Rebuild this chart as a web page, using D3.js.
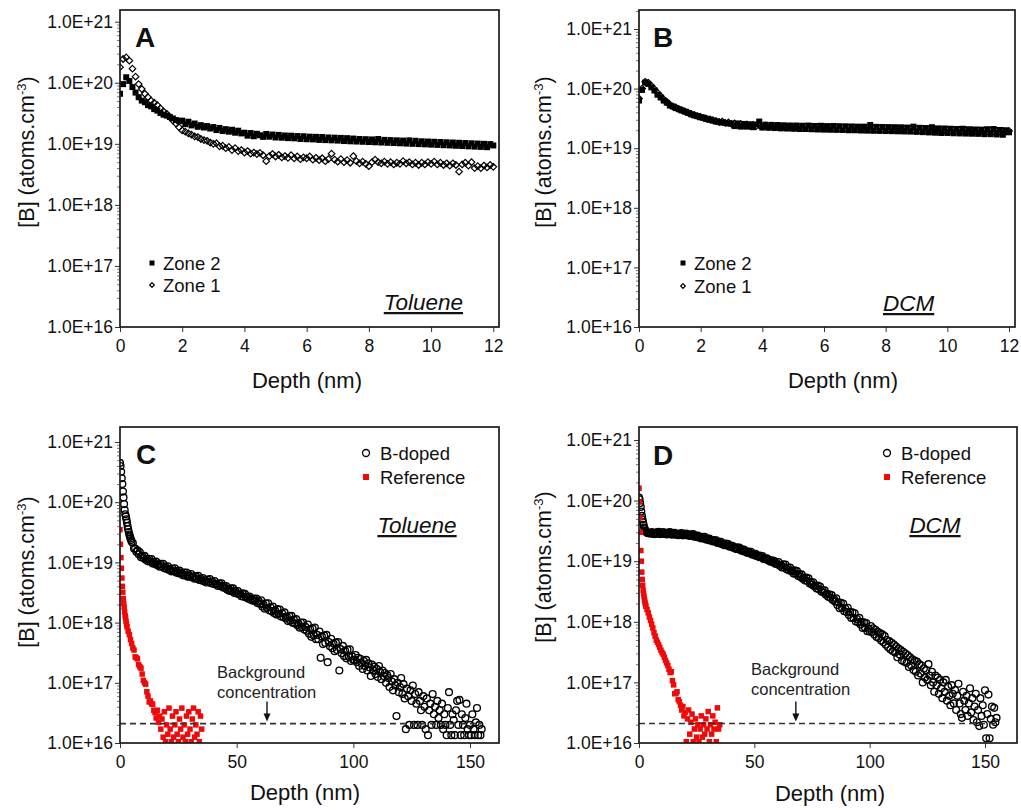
<!DOCTYPE html>
<html>
<head>
<meta charset="UTF-8">
<title>Boron depth profiles</title>
<script src="https://d3js.org/d3.v7.min.js"></script>
<style>
  body { margin: 0; background: #fff; }
  svg { font-family: "Liberation Sans", Arial, sans-serif; }
</style>
</head>
<body>
<svg id="chart" width="1021" height="810"></svg>
<script>
// ---- data (depth in nm, [B] in atoms/cm3) ----

// panels A and B : depth grid 0..12 nm
const depthAB = [0,0.1,0.2,0.3,0.4,0.5,0.6,0.7,0.8,0.9,
  1,1.1,1.2,1.3,1.4,1.5,1.6,1.7,1.8,1.9,2,2.1,2.2,2.3,2.4,2.5,2.6,2.7,2.8,2.9,
  3,3.1,3.2,3.3,3.4,3.5,3.6,3.7,3.8,3.9,4,4.1,4.2,4.3,4.4,4.5,4.6,4.7,4.8,4.9,
  5,5.1,5.2,5.3,5.4,5.5,5.6,5.7,5.8,5.9,6,6.1,6.2,6.3,6.4,6.5,6.6,6.7,6.8,6.9,
  7,7.1,7.2,7.3,7.4,7.5,7.6,7.7,7.8,7.9,8,8.1,8.2,8.3,8.4,8.5,8.6,8.7,8.8,8.9,
  9,9.1,9.2,9.3,9.4,9.5,9.6,9.7,9.8,9.9,10,10.1,10.2,10.3,10.4,10.5,10.6,10.7,10.8,10.9,
  11,11.1,11.2,11.3,11.4,11.5,11.6,11.7,11.8,11.9,12];

const zone2A = [6.6e19,9.5e19,1.23e20,1.07e20,8.5e19,6.9e19,5.8e19,5.1e19,4.8e19,4.3e19,
  4.1e19,3.7e19,3.5e19,3.2e19,3.0e19,2.9e19,2.75e19,2.6e19,2.45e19,2.35e19,
  2.4e19,2.1e19,2.3e19,2.0e19,2.15e19,1.9e19,2.02e19,1.85e19,1.95e19,1.78e19,
  1.88e19,1.68e19,1.82e19,1.62e19,1.74e19,1.58e19,1.7e19,1.52e19,1.64e19,1.48e19,
  1.52e19,1.36e19,1.5e19,1.33e19,1.46e19,1.38e19,1.3e19,1.45e19,1.31e19,1.42e19,
  1.27e19,1.4e19,1.26e19,1.37e19,1.24e19,1.36e19,1.23e19,1.34e19,1.2e19,1.33e19,
  1.19e19,1.31e19,1.18e19,1.3e19,1.16e19,1.29e19,1.15e19,1.27e19,1.14e19,1.26e19,
  1.13e19,1.25e19,1.11e19,1.24e19,1.1e19,1.22e19,1.09e19,1.2e19,1.08e19,1.19e19,
  1.07e19,1.18e19,1.06e19,1.2e19,1.05e19,1.16e19,1.04e19,1.15e19,1.03e19,1.14e19,
  1.02e19,1.13e19,1.01e19,1.14e19,1.0e19,1.12e19,9.9e18,1.1e19,9.8e18,1.09e19,
  9.7e18,1.08e19,9.6e18,1.07e19,9.5e18,1.06e19,9.4e18,1.05e19,9.3e18,1.04e19,
  9.2e18,1.03e19,9.1e18,1.02e19,9.0e18,1.01e19,8.9e18,1.0e19,8.8e18,9.9e18,9.4e18];

const zone1A = [1.8e20,2.45e20,2.6e20,2.3e20,1.7e20,1.26e20,9.5e19,7.9e19,6.6e19,5.8e19,
  5.1e19,4.7e19,4.3e19,3.8e19,3.4e19,3.1e19,2.75e19,2.4e19,2.15e19,1.86e19,
  1.66e19,1.58e19,1.48e19,1.41e19,1.32e19,1.29e19,1.2e19,1.15e19,1.12e19,1.05e19,
  1.0e19,1.02e19,9.1e18,9.3e18,8.5e18,8.9e18,7.9e18,8.5e18,7.6e18,7.9e18,
  7.2e18,7.6e18,6.9e18,7.2e18,6.8e18,7.1e18,6.5e18,5.2e18,6.3e18,6.8e18,
  6.2e18,6.6e18,6.0e18,6.3e18,5.9e18,6.5e18,5.8e18,6.2e18,5.6e18,6.0e18,
  5.8e18,6.2e18,5.5e18,5.9e18,5.4e18,5.8e18,5.2e18,5.6e18,6.9e18,5.5e18,
  5.1e18,5.6e18,5.0e18,5.4e18,4.9e18,6.3e18,5.2e18,4.8e18,5.1e18,4.7e18,
  4.3e18,5.0e18,5.5e18,5.0e18,4.8e18,5.1e18,4.7e18,5.0e18,4.6e18,4.9e18,
  4.7e18,5.2e18,4.8e18,5.0e18,4.6e18,4.9e18,4.5e18,4.9e18,4.6e18,5.0e18,
  4.7e18,5.1e18,4.6e18,4.9e18,4.5e18,4.8e18,4.4e18,4.8e18,4.5e18,3.5e18,
  4.6e18,4.9e18,4.4e18,5.0e18,4.0e18,4.3e18,4.0e18,4.4e18,4.1e18,4.5e18,4.2e18];

const zone2B = [6.3e19,9.5e19,1.26e20,1.2e20,1.05e20,9.3e19,7.9e19,7.1e19,6.3e19,5.8e19,
  5.2e19,5.0e19,4.7e19,4.5e19,4.3e19,4.1e19,3.9e19,3.7e19,3.55e19,3.45e19,
  3.3e19,3.25e19,3.1e19,3.0e19,2.9e19,2.8e19,2.75e19,2.7e19,2.65e19,2.6e19,
  2.6e19,2.35e19,2.6e19,2.3e19,2.55e19,2.3e19,2.52e19,2.25e19,2.5e19,2.8e19,
  2.22e19,2.48e19,2.2e19,2.46e19,2.18e19,2.45e19,2.15e19,2.42e19,2.14e19,2.4e19,
  2.12e19,2.4e19,2.1e19,2.38e19,2.1e19,2.4e19,2.08e19,2.36e19,2.06e19,2.38e19,
  2.05e19,2.35e19,2.04e19,2.36e19,2.03e19,2.34e19,2.02e19,2.33e19,2.0e19,2.32e19,
  2.0e19,2.3e19,1.98e19,2.3e19,1.97e19,2.45e19,1.96e19,2.28e19,1.95e19,2.27e19,
  1.94e19,2.26e19,1.93e19,2.25e19,1.92e19,2.24e19,1.91e19,2.22e19,1.9e19,2.3e19,
  1.88e19,2.2e19,1.86e19,2.18e19,1.84e19,2.25e19,1.82e19,2.15e19,1.8e19,2.14e19,
  1.8e19,2.12e19,1.78e19,2.1e19,1.77e19,2.12e19,1.76e19,2.08e19,1.75e19,2.06e19,
  1.74e19,2.05e19,1.72e19,2.08e19,1.72e19,2.1e19,1.7e19,2.02e19,1.68e19,2.0e19,1.85e19];

const zone1B = [6.8e19,1.0e20,1.3e20,1.25e20,1.12e20,9.8e19,8.5e19,7.5e19,6.6e19,6.0e19,
  5.4e19,5.0e19,4.8e19,4.5e19,4.3e19,4.1e19,3.9e19,3.75e19,3.6e19,3.45e19,
  3.35e19,3.2e19,3.1e19,3.05e19,2.95e19,2.85e19,2.75e19,2.8e19,2.65e19,2.7e19,
  2.55e19,2.6e19,2.48e19,2.55e19,2.45e19,2.5e19,2.4e19,2.45e19,2.35e19,2.42e19,
  2.32e19,2.4e19,2.3e19,2.36e19,2.28e19,2.34e19,2.26e19,2.32e19,2.24e19,2.3e19,
  2.22e19,2.28e19,2.24e19,2.2e19,2.27e19,2.21e19,2.26e19,2.2e19,2.25e19,2.19e19,
  2.24e19,2.18e19,2.23e19,2.17e19,2.22e19,2.16e19,2.21e19,2.15e19,2.2e19,2.14e19,
  2.19e19,2.13e19,2.18e19,2.12e19,2.17e19,2.11e19,2.16e19,2.1e19,2.15e19,2.09e19,
  2.14e19,2.08e19,2.13e19,2.07e19,2.12e19,2.06e19,2.11e19,2.05e19,2.1e19,2.04e19,
  2.09e19,2.03e19,2.08e19,2.02e19,2.07e19,2.01e19,2.06e19,2.0e19,2.05e19,1.99e19,
  2.04e19,1.98e19,2.03e19,1.97e19,2.02e19,1.96e19,2.01e19,1.95e19,2.0e19,1.94e19,
  1.99e19,1.93e19,1.98e19,1.92e19,1.97e19,1.91e19,1.96e19,1.9e19,1.95e19,1.89e19,1.94e19];

// panels C and D : B-doped depth grid (0.25 nm to 5 nm, then 0.5 nm)
const depthCD = [0,0.25,0.5,0.75,1,1.25,1.5,1.75,2,2.25,2.5,2.75,3,3.25,3.5,3.75,4,4.25,4.5,4.75,5,
  5.5,6,6.5,7,7.5,8,8.5,9,9.5,10,10.5,11,11.5,12,12.5,13,13.5,14,14.5,15,15.5,16,16.5,17,17.5,18,18.5,19,19.5,20,
  20.5,21,21.5,22,22.5,23,23.5,24,24.5,25,25.5,26,26.5,27,27.5,28,28.5,29,29.5,30,
  30.5,31,31.5,32,32.5,33,33.5,34,34.5,35,35.5,36,36.5,37,37.5,38,38.5,39,39.5,40,
  40.5,41,41.5,42,42.5,43,43.5,44,44.5,45,45.5,46,46.5,47,47.5,48,48.5,49,49.5,50,
  50.5,51,51.5,52,52.5,53,53.5,54,54.5,55,55.5,56,56.5,57,57.5,58,58.5,59,59.5,60,
  60.5,61,61.5,62,62.5,63,63.5,64,64.5,65,65.5,66,66.5,67,67.5,68,68.5,69,69.5,70,
  70.5,71,71.5,72,72.5,73,73.5,74,74.5,75,75.5,76,76.5,77,77.5,78,78.5,79,79.5,80,
  80.5,81,81.5,82,82.5,83,83.5,84,84.5,85,85.5,86,86.5,87,87.5,88,88.5,89,89.5,90,
  90.5,91,91.5,92,92.5,93,93.5,94,94.5,95,95.5,96,96.5,97,97.5,98,98.5,99,99.5,100,
  100.5,101,101.5,102,102.5,103,103.5,104,104.5,105,105.5,106,106.5,107,107.5,108,108.5,109,109.5,110,
  110.5,111,111.5,112,112.5,113,113.5,114,114.5,115,115.5,116,116.5,117,117.5,118,118.5,119,119.5,120,
  120.5,121,121.5,122,122.5,123,123.5,124,124.5,125,125.5,126,126.5,127,127.5,128,128.5,129,129.5,130,
  130.5,131,131.5,132,132.5,133,133.5,134,134.5,135,135.5,136,136.5,137,137.5,138,138.5,139,139.5,140,
  140.5,141,141.5,142,142.5,143,143.5,144,144.5,145,145.5,146,146.5,147,147.5,148,148.5,149,149.5,150,
  150.5,151,151.5,152,152.5,153,153.5,154,154.5,155];

const bdopedC = [4.5e20,4.0e20,3.2e20,2.5e20,2.0e20,1.5e20,1.2e20,9.3e19,7.4e19,6.3e19,
  5.8e19,5.2e19,4.6e19,4.0e19,3.55e19,3.2e19,2.9e19,2.7e19,2.5e19,2.35e19,2.2e19,
  2.1e19,1.7e19,1.7e19,1.5e19,1.58e19,1.36e19,1.47e19,1.22e19,1.29e19,1.18e19,
  1.28e19,1.11e19,1.15e19,1.04e19,1.15e19,1.04e19,1.14e19,9.6e18,1.02e19,9.4e18,
  1.03e19,9.0e18,9.3e18,8.5e18,9.45e18,8.6e18,9.5e18,8.0e18,8.5e18,7.8e18,
  8.6e18,7.5e18,7.75e18,7.1e18,7.9e18,7.2e18,8.0e18,6.8e18,7.2e18,6.6e18,
  7.3e18,6.5e18,6.7e18,6.1e18,6.8e18,6.1e18,6.8e18,5.8e18,6.2e18,5.8e18,
  6.4e18,5.6e18,5.8e18,5.35e18,5.9e18,5.4e18,6.0e18,5.1e18,5.4e18,5.0e18,
  5.5e18,4.85e18,5.05e18,4.65e18,5.2e18,4.75e18,5.3e18,4.5e18,4.8e18,4.4e18,
  4.9e18,4.3e18,4.4e18,4.05e18,4.5e18,4.1e18,4.5e18,3.85e18,4.1e18,3.75e18,
  4.05e18,3.5e18,3.65e18,3.35e18,3.7e18,3.35e18,3.7e18,3.1e18,3.3e18,3.05e18,
  3.35e18,2.95e18,3.0e18,2.75e18,3.05e18,2.7e18,3.0e18,2.6e18,2.7e18,2.5e18,
  2.7e18,2.4e18,2.48e18,2.3e18,2.5e18,2.3e18,2.5e18,2.1e18,2.25e18,2.05e18,
  2.35e18,1.85e18,2.0e18,1.7e18,2.1e18,1.75e18,2.1e18,1.6e18,1.8e18,1.55e18,
  1.85e18,1.45e18,1.58e18,1.36e18,1.67e18,1.4e18,1.65e18,1.26e18,1.43e18,1.24e18,
  1.48e18,1.17e18,1.25e18,1.06e18,1.3e18,1.08e18,1.29e18,9.9e17,1.12e18,9.7e17,
  1.14e18,9.0e17,9.6e17,8.2e17,1.0e18,8.4e17,1.0e18,7.65e17,8.5e17,7.3e17,
  9.3e17,6.5e17,7.8e17,5.8e17,8.0e17,6.1e17,8.3e17,5.3e17,6.25e17,5.3e17,
  7.1e17,2.6e17,5.9e17,4.4e17,6.1e17,4.6e17,6.25e17,2.2e17,4.75e17,4.05e17,
  5.4e17,3.75e17,4.5e17,3.35e17,4.65e17,3.5e17,4.75e17,1.6e17,3.62e17,3.1e17,
  4.1e17,2.8e17,3.4e17,2.55e17,3.55e17,2.7e17,3.6e17,2.3e17,2.75e17,2.4e17,
  2.4e17,2.9e17,2.2e17,2.6e17,1.9e17,2.5e17,2.1e17,1.7e17,2.3e17,1.9e17,
  2.4e17,1.6e17,2.1e17,1.8e17,1.3e17,2.0e17,1.6e17,1.85e17,1.4e17,1.7e17,
  1.25e17,1.9e17,1.5e17,1.15e17,1.6e17,1.3e17,1.45e17,1.0e17,1.35e17,1.2e17,
  8.5e16,1.4e17,1.05e17,7.5e16,1.15e17,9.0e16,2.8e16,1.0e17,7.0e16,8.5e16,
  1.2e17,6.5e16,9.5e16,5.5e16,1.7e16,8.0e16,6.0e16,2.0e16,7.5e16,5.0e16,
  9.0e16,2.0e16,6.5e16,4.5e16,2.0e16,7.0e16,5.0e16,3.5e16,2.0e16,6.0e16,
  4.0e16,1.7e16,5.5e16,1.35e16,3.5e16,4.5e16,2.0e16,6.5e16,3.0e16,4.0e16,
  2.0e16,5.0e16,2.6e16,3.5e16,2.0e16,4.5e16,1.7e16,3.0e16,2.0e16,1.35e16,
  3.8e16,7.0e16,2.0e16,1.35e16,3.0e16,2.4e16,1.35e16,3.5e16,5.0e16,2.0e16,
  5.2e16,1.35e16,3.0e16,2.0e16,1.35e16,2.6e16,4.5e16,1.7e16,1.35e16,2.0e16,
  1.35e16,3.0e16,1.7e16,1.35e16,2.2e16,3.8e16,1.35e16,2.0e16,1.35e16,1.7e16];

const bdopedD = [1.12e20,1.05e20,9.1e19,7.9e19,6.6e19,5.6e19,4.9e19,4.4e19,4.0e19,3.6e19,
  3.4e19,3.2e19,3.1e19,3.0e19,2.95e19,2.95e19,2.9e19,2.9e19,2.92e19,2.88e19,2.9e19,
  3.02e19,2.81e19,2.91e19,2.8e19,3.0e19,2.84e19,3.05e19,2.8e19,2.94e19,2.81e19,
  3.02e19,2.81e19,2.89e19,2.76e19,2.97e19,2.82e19,3.01e19,2.75e19,2.88e19,2.76e19,
  2.94e19,2.74e19,2.81e19,2.69e19,2.87e19,2.72e19,2.92e19,2.67e19,2.81e19,2.7e19,
  2.87e19,2.67e19,2.73e19,2.61e19,2.78e19,2.63e19,2.79e19,2.53e19,2.64e19,2.5e19,
  2.66e19,2.46e19,2.51e19,2.38e19,2.53e19,2.39e19,2.53e19,2.28e19,2.36e19,2.23e19,
  2.37e19,2.19e19,2.23e19,2.11e19,2.24e19,2.11e19,2.22e19,2.0e19,2.07e19,1.97e19,
  2.08e19,1.91e19,1.94e19,1.84e19,1.96e19,1.83e19,1.94e19,1.75e19,1.81e19,1.71e19,
  1.8e19,1.66e19,1.68e19,1.59e19,1.69e19,1.59e19,1.68e19,1.51e19,1.57e19,1.47e19,
  1.56e19,1.43e19,1.45e19,1.37e19,1.44e19,1.35e19,1.43e19,1.29e19,1.32e19,1.25e19,
  1.32e19,1.22e19,1.24e19,1.17e19,1.24e19,1.16e19,1.22e19,1.09e19,1.13e19,1.07e19,
  1.12e19,1.03e19,1.04e19,9.8e18,1.03e19,9.6e18,1.01e19,9.1e18,9.4e18,8.9e18,
  9.7e18,8.4e18,8.75e18,7.9e18,8.9e18,7.9e18,8.8e18,7.35e18,7.85e18,7.1e18,
  7.85e18,6.8e18,7.0e18,6.25e18,7.05e18,6.25e18,6.85e18,5.7e18,6.05e18,5.5e18,
  6.05e18,5.15e18,5.35e18,4.8e18,5.35e18,4.7e18,5.2e18,4.3e18,4.55e18,4.1e18,
  4.5e18,3.85e18,3.97e18,3.55e18,3.95e18,3.45e18,3.8e18,3.15e18,3.35e18,3.05e18,
  3.3e18,2.8e18,2.9e18,2.6e18,2.85e18,2.5e18,2.75e18,2.3e18,2.4e18,2.15e18,
  2.45e18,1.9e18,2.1e18,1.68e18,2.05e18,1.7e18,2.0e18,1.5e18,1.64e18,1.45e18,
  1.7e18,1.3e18,1.45e18,1.16e18,1.43e18,1.16e18,1.38e18,1.01e18,1.11e18,9.8e17,
  1.16e18,9.0e17,9.9e17,7.9e17,9.8e17,8.0e17,9.5e17,7.0e17,7.7e17,6.9e17,
  8.5e17,6.8e17,7.8e17,6.2e17,7.4e17,5.6e17,6.8e17,5.4e17,6.5e17,4.9e17,
  6.2e17,4.6e17,5.8e17,4.2e17,5.0e17,3.8e17,4.8e17,3.5e17,4.5e17,3.3e17,
  4.2e17,3.1e17,3.9e17,2.6e17,3.6e17,2.9e17,3.4e17,2.3e17,3.2e17,2.2e17,
  3.0e17,2.1e17,2.8e17,1.8e17,2.6e17,1.9e17,2.4e17,1.6e17,2.3e17,1.5e17,
  2.2e17,1.3e17,2.0e17,1.4e17,1.9e17,1.0e17,1.7e17,1.2e17,1.6e17,1.1e17,
  2.0e17,1.3e17,9.0e16,1.5e17,1.0e17,7.0e16,1.3e17,9.0e16,1.2e17,6.5e16,
  1.1e17,8.0e16,5.5e16,1.0e17,7.0e16,1.1e17,5.0e16,8.5e16,6.0e16,4.2e16,
  9.0e16,6.5e16,4.5e16,7.5e16,3.5e16,6.0e16,9.5e16,4.5e16,3.0e16,2.6e16,
  7.0e16,5.0e16,3.5e16,6.0e16,2.8e16,4.5e16,8.0e16,3.2e16,5.5e16,2.4e16,
  4.0e16,6.5e16,2.2e16,3.5e16,1.9e16,5.5e16,2.8e16,4.2e16,2.0e16,7.4e16,
  1.2e16,3.0e16,6.3e16,1.2e16,2.5e16,4.0e16,2.0e16,3.8e16,2.2e16,2.6e16];

// reference (undoped) profiles : depth grid
const depthRef = [0,0.2,0.4,0.6,0.8,1,1.2,1.4,1.6,1.8,2,2.2,2.4,2.6,2.8,3,
  3.5,4,4.5,5,5.5,6,6.5,7,7.5,8,8.5,9,9.5,10,10.5,11,11.5,12,12.5,13,13.5,14,14.5,15,15.5,16,16.5,17,
  17.5,18,18.5,19,19.5,20,20.5,21,21.5,22,22.5,23,23.5,24,24.5,25,25.5,26,26.5,27,
  27.5,28,28.5,29,29.5,30,30.5,31,31.5,32,32.5,33,33.5,34,34.5,35];

const refC = [3.5e19,2.0e19,1.2e19,8.0e18,5.5e18,4.0e18,3.2e18,2.5e18,2.1e18,1.8e18,
  1.5e18,1.3e18,1.2e18,1.05e18,9.5e17,8.5e17,
  7.2e17,6.3e17,5.2e17,4.5e17,3.8e17,3.5e17,2.7e17,2.6e17,2.5e17,2.0e17,
  1.85e17,1.75e17,1.4e17,1.1e17,1.0e17,9.5e16,7.1e16,6.0e16,4.8e16,5.0e16,
  4.5e16,4.4e16,3.5e16,3.2e16,2.6e16,3.5e16,2.2e16,2.8e16,
  1.7e16,2.5e16,1.25e16,3.3e16,1.05e16,2.0e16,1.4e16,3.8e16,1.7e16,1.05e16,
  2.8e16,1.25e16,2.0e16,3.3e16,1.4e16,1.05e16,2.5e16,1.7e16,3.8e16,1.25e16,
  2.0e16,1.05e16,2.8e16,1.4e16,3.3e16,1.7e16,1.05e16,2.5e16,3.8e16,1.25e16,
  2.0e16,1.4e16,3.3e16,1.05e16,2.8e16,1.7e16];

const refD = [1.6e20,9.5e19,5.2e19,3.0e19,1.5e19,1.0e19,6.6e18,5.0e18,4.0e18,3.3e18,
  2.9e18,2.6e18,2.3e18,2.1e18,1.95e18,1.8e18,
  1.6e18,1.4e18,1.2e18,1.05e18,9.1e17,7.9e17,6.6e17,5.8e17,5.0e17,4.6e17,
  4.2e17,3.8e17,3.4e17,3.1e17,2.9e17,2.6e17,2.3e17,2.1e17,1.9e17,1.65e17,
  1.45e17,1.5e17,1.07e17,9.1e16,6.5e16,6.6e16,7.0e16,5.2e16,
  4.8e16,4.2e16,3.5e16,4.0e16,2.8e16,3.2e16,1.05e16,2.5e16,3.5e16,1.4e16,
  2.2e16,3.0e16,1.05e16,1.7e16,2.5e16,1.25e16,2.0e16,1.05e16,1.7e16,2.8e16,
  1.25e16,2.0e16,1.4e16,2.5e16,1.7e16,3.3e16,1.05e16,2.0e16,1.4e16,2.8e16,
  1.7e16,2.2e16,1.05e16,3.8e16,1.7e16,2.0e16];

// axes
const yTicks = [1e16, 1e17, 1e18, 1e19, 1e20, 1e21];
const yTickLabels = ["1.0E+16", "1.0E+17", "1.0E+18", "1.0E+19", "1.0E+20", "1.0E+21"];
const xTicksAB = [0, 2, 4, 6, 8, 10, 12];
const xTicksCD = [0, 50, 100, 150];

// background concentration (C, D)
const background = 2.1e16;
const bgEndC = 155, bgArrowC = 63;
const bgEndD = 156, bgArrowD = 68;

// ---- layout ----
const svg = d3.select("#chart");
svg.append("rect").attr("width", 1021).attr("height", 810).attr("fill", "#fff");

const diamond = "M0,-3.3L3.3,0L0,3.3L-3.3,0Z";
const red = "#ee0a0a";

const panels = [
  { id: "A", solvent: "Toluene", xd: [0, 12], xr: [120, 493.3], xt: xTicksAB, y16: 327, y21: 21.7,
    box: [120, 10, 499, 327], letter: [135, 47], solv: [463, 310, "end"], ylab: [26, 152], xlab: [307, 388],
    series: [
      { x: depthAB, y: zone2A, type: "square", name: "Zone 2" },
      { x: depthAB, y: zone1A, type: "diamond", name: "Zone 1" }],
    legend: [152, 263, 22] },
  { id: "B", solvent: "DCM", xd: [0, 12], xr: [639, 1009], xt: xTicksAB, y16: 327, y21: 29,
    box: [639, 10, 1015, 327], letter: [653, 47], solv: [883, 311, "start"], ylab: [543, 152], xlab: [843, 388],
    series: [
      { x: depthAB, y: zone2B, type: "square", name: "Zone 2" },
      { x: depthAB, y: zone1B, type: "diamond", name: "Zone 1" }],
    legend: [683, 263, 23] },
  { id: "C", solvent: "Toluene", xd: [0, 150], xr: [120, 470], xt: xTicksCD, y16: 743, y21: 442,
    box: [120, 427, 499, 743], letter: [136, 464], solv: [417, 533, "middle"], ylab: [26, 572], xlab: [305, 800],
    series: [
      { x: depthCD, y: bdopedC, type: "circle", name: "B-doped" },
      { x: depthRef, y: refC, type: "red", name: "Reference" }],
    legend: [366, 453, 24], bg: [background, bgEndC, bgArrowC, 217, 678] },
  { id: "D", solvent: "DCM", xd: [0, 150], xr: [639, 985], xt: xTicksCD, y16: 743, y21: 440,
    box: [639, 427, 1017, 743], letter: [653, 465], solv: [935, 533, "middle"], ylab: [543, 567], xlab: [830, 801],
    series: [
      { x: depthCD, y: bdopedD, type: "circle", name: "B-doped" },
      { x: depthRef, y: refD, type: "red", name: "Reference" }],
    legend: [887, 453, 24], bg: [background, bgEndD, bgArrowD, 751, 675] }
];

function marker(sel, type, s) {
  if (type === "square") {
    sel.append("rect").attr("x", -s / 2).attr("y", -s / 2).attr("width", s).attr("height", s).attr("fill", "#000");
  } else if (type === "red") {
    sel.append("rect").attr("x", -s / 2).attr("y", -s / 2).attr("width", s).attr("height", s).attr("fill", red);
  } else if (type === "diamond") {
    sel.append("path").attr("d", diamond).attr("transform", `scale(${s / 6.6})`)
      .attr("fill", "none").attr("stroke", "#000").attr("stroke-width", 1.2 / (s / 6.6));
  } else {
    sel.append("circle").attr("r", s / 2).attr("fill", "none").attr("stroke", "#000").attr("stroke-width", 1.35);
  }
}

function drawPanel(p) {
  const g = svg.append("g");
  const [bx0, by0, bx1, by1] = p.box;
  const x = d3.scaleLinear().domain(p.xd).range(p.xr);
  const y = d3.scaleLog().domain([1e16, 1e21]).range([p.y16, p.y21]);

  // clip for the marks
  svg.append("clipPath").attr("id", "clip" + p.id)
    .append("rect").attr("x", bx0).attr("y", by0).attr("width", bx1 - bx0).attr("height", by1 - by0);

  // minor ticks (log)
  const minors = [];
  for (let e = 16; e <= 21; e++) for (let k = 2; k <= 9; k++) minors.push(k * Math.pow(10, e));
  const yMinor = g.append("g").attr("transform", `translate(${bx0},0)`)
    .call(d3.axisLeft(y).tickValues(minors.filter(v => y(v) >= by0)).tickSize(3).tickFormat(""));
  yMinor.select(".domain").remove();
  yMinor.selectAll("line").attr("stroke", "#777");

  const yAxis = g.append("g").attr("transform", `translate(${bx0},0)`)
    .call(d3.axisLeft(y).tickValues(yTicks).tickSize(5).tickPadding(2)
      .tickFormat((d, i) => yTickLabels[i]));
  yAxis.select(".domain").remove();
  yAxis.selectAll("line").attr("stroke", "#333");
  yAxis.selectAll("text").attr("font-size", 17.5).attr("font-family", "Liberation Sans, Arial, sans-serif").attr("fill", "#111");

  const xAxis = g.append("g").attr("transform", `translate(0,${by1})`)
    .call(d3.axisBottom(x).tickValues(p.xt).tickSize(5).tickPadding(8));
  xAxis.select(".domain").remove();
  xAxis.selectAll("line").attr("stroke", "#333");
  xAxis.selectAll("text").attr("font-size", 17.5).attr("font-family", "Liberation Sans, Arial, sans-serif").attr("fill", "#111");

  // marks
  const marks = g.append("g").attr("clip-path", `url(#clip${p.id})`);
  p.series.forEach(s => {
    const pts = s.x.map((d, i) => [d, s.y[i]]);
    const sel = marks.append("g").selectAll("g").data(pts).join("g")
      .attr("transform", d => `translate(${x(d[0])},${y(d[1])})`);
    const size = s.type === "circle" ? 6.8 : s.type === "red" ? 5.5 : s.type === "square" ? 6 : 6.6;
    marker(sel, s.type, size);
  });

  // background concentration line + arrow
  if (p.bg) {
    const [bgv, bgEnd, bgArrow, tx, ty] = p.bg;
    const yb = y(bgv);
    g.append("line").attr("x1", x(0)).attr("x2", x(bgEnd)).attr("y1", yb).attr("y2", yb)
      .attr("stroke", "#333").attr("stroke-width", 1.6).attr("stroke-dasharray", "6,4");
    const ax = x(bgArrow);
    g.append("line").attr("x1", ax).attr("x2", ax).attr("y1", yb - 22).attr("y2", yb - 9)
      .attr("stroke", "#111").attr("stroke-width", 1.4);
    g.append("path").attr("d", `M${ax - 3.5},${yb - 10}L${ax + 3.5},${yb - 10}L${ax},${yb - 2}Z`).attr("fill", "#111");
    const t = g.append("text").attr("x", tx).attr("y", ty).attr("font-size", 16.5).attr("fill", "#222");
    t.append("tspan").attr("x", tx).text("Background");
    t.append("tspan").attr("x", tx).attr("dy", 20).text("concentration");
  }

  // frame
  g.append("rect").attr("x", bx0).attr("y", by0).attr("width", bx1 - bx0).attr("height", by1 - by0)
    .attr("fill", "none").attr("stroke", "#1a1a1a").attr("stroke-width", 1.7);

  // panel letter
  g.append("text").attr("x", p.letter[0]).attr("y", p.letter[1]).attr("font-size", 28)
    .attr("font-weight", "bold").attr("fill", "#111").text(p.id);

  // solvent label
  g.append("text").attr("x", p.solv[0]).attr("y", p.solv[1]).attr("text-anchor", p.solv[2])
    .attr("font-size", 22.5).attr("font-style", "italic").attr("text-decoration", "underline")
    .attr("fill", "#111").text(p.solvent);

  // legend
  const [lx, ly, ldy] = p.legend;
  p.series.forEach((s, i) => {
    const row = g.append("g").attr("transform", `translate(${lx},${ly + i * ldy})`);
    const ls = s.type === "circle" ? 7 : s.type === "red" ? 6 : s.type === "square" ? 5 : 4.6;
    marker(row, s.type, ls);
    row.append("text").attr("x", s.type === "circle" || s.type === "red" ? 14 : 11).attr("y", 6.5)
      .attr("font-size", 18.5).attr("fill", "#111").text(s.name);
  });

  // axis titles
  g.append("text").attr("x", p.xlab[0]).attr("y", p.xlab[1]).attr("text-anchor", "middle")
    .attr("font-size", 22).attr("fill", "#111").text("Depth (nm)");
  const yl = g.append("text").attr("transform", `translate(${p.ylab[0]},${p.ylab[1]}) rotate(-90)`)
    .attr("text-anchor", "middle").attr("dy", "0.35em").attr("font-size", 21.5).attr("fill", "#111");
  yl.append("tspan").text("[B] (atoms.cm");
  yl.append("tspan").attr("font-size", 13).attr("dy", -8).text("-3");
  yl.append("tspan").attr("dy", 8).text(")");
}

panels.forEach(drawPanel);
</script>
</body>
</html>
